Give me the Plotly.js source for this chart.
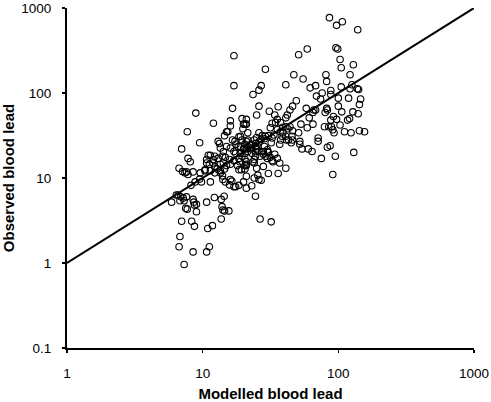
<!DOCTYPE html>
<html>
<head>
<meta charset="utf-8">
<script src="https://cdn.plot.ly/plotly-3.0.1.min.js"></script>
<style>html,body{margin:0;padding:0;background:#fff;}#chart{width:491px;height:402px;}</style>
</head>
<body>
<div id="chart"></div>
<script>
// Modelled blood lead (x) and observed blood lead (y)
var modelled = [
  86,107,97,139,96,99,103,105,129,122,81,82,59,51,47,55,41,29,27,26,23.5,17,17,16.6,8.9,
  62,68,76,69,74,88,88,105,100,119,122,126,138,141,146,143,100,106,128,140,117,121,111,124,143,156,130,95,91,75,
  83,87,71,71,79,85,89,91,93,92,97,88,103,82,83,80,66,68,65,58,61,65,53,59,51,
  49,46,44,42,41,44,45.5,46,52,54,60,64,52,39,41,37,36,36,34,34.5,35.5,37.5,38.5,37,41,41.5,
  31,26,25,21,21,20,20.5,19,21.5,26,29,30.5,33.5,32.5,32,28.5,24,21,20.5,21.5,23,24.5,25,26,28,30,29,26.5,31.5,32.5,33,30.5,25.5,26,27,24,21,23,21,20,24.5,18.5,17.5,26.5,32,
  16.6,17.3,17.6,18.3,16,15,17,17.5,19,19.5,18.5,20,21,22.5,23,20.5,21,20.5,21,23.5,24,24.5,15.8,17,16,18,18.5,19.3,15,14.5,13.5,14.2,14.7,14,13,12.3,12,11.4,11,10.7,11.2,10.7,11.9,12.3,12.8,13.5,12.3,13.5,11.4,10.4,11.4,14,14.1,14.7,16,16.4,15.8,17,13.3,13.5,14.2,15,15.3,14.5,16,16,12,19.5,19.8,18.5,13,9.5,
  7.7,7,7.8,8.1,7.6,7.4,7.1,6.7,7.8,8.5,8.8,8.2,9.6,10.4,6.4,6.6,6.9,7.2,5.9,6.8,7.3,7.6,8.5,8.6,9.0,8.7,7.5,7.7,9.0,10.7,12.2,13.7,14.4,13.9,14.1,14.5,15.6,13.7,11.8,10.9,11.2,10.7,8.7,8.3,7,6.8,6.7,8.5,7.3,9.8,9.5,
  25,27,28.5,30,26,24.5,22.5,23,21.5,24.5,20.5,19,19.5,21.5,25.5,28,30.5,34,35.5,30,24,18.8,21,27.5,37.5,41,39,42.5,46,45,43,37.5,35.5,32.5,31.5,25,20.5,28
];
var observed = [
  770,690,625,555,340,330,248,198,215,164,164,137,330,282,164,146,125,190,122,108,96,274,122,66,58,
  115,122,100,92,85,107,96,118,87,87,112,125,112,110,85,73,70,60,60,57,48,50,35,34,36,35,20,18,11,17,
  23,24,29.5,27,40,40,40,37,34,53,49,48,42,66,63,59,63,63,59,66,51,43,43,39,34,
  81,70,63,55,51,40,31,28,27,22,22,20.5,25,34,13,15,11.3,69,55,45,37,35,31,25,31,28,
  61,70,55,49,43,43,43,31,34,34,31,31.5,32,29.5,26,29,28,27,25,23.5,25,23.5,22,20.5,20.5,20.5,18,18,17.5,16,15.5,11.3,10.8,9.6,9.4,10,10.5,8.1,7.6,9,6.1,8.2,7.9,3.3,3.05,
  28,27,25,23.5,22.5,23.5,20.5,19.5,19.5,18,17,22,22,22.5,19.5,16.5,15.5,14,14.5,15.5,16.5,18,16.5,16,14.5,14,12.5,12.5,14,12.8,14.5,15,17.5,18,17,18,16.5,18.5,18.5,16.5,14.5,15,15,13.5,12.8,12.2,11.5,11.5,12.2,12.2,9,10.6,9.6,9,9.6,9.2,8.3,7.9,25.5,22.5,20.5,35,35,31.5,41,47,44,50,38,30.5,27,26,
  35,22,17,15.5,11.8,11.5,11.9,13,11,11.8,9,8.2,11.5,12.5,6.3,6.3,6,5.8,5.2,5.4,5.4,6,5.6,5.2,4.9,4.8,4.4,4.3,4.0,5.2,5.9,5.6,6.1,4.6,4.2,4.1,4.1,3.3,2.75,2.55,1.55,1.35,2.7,3.1,3.1,2.05,1.55,1.35,0.96,9,9.7,
  30,28.5,23.5,21.5,26.5,25.5,24.5,22,20.5,20.5,19.5,23.5,28,28,23.5,19,20,19,17,17,15,15.5,14,31.5,45,40,39.5,38,36,26,28,28,49,44,39,13,12.8,13.7
];
// 1:1 reference line
var lineX = [1, 1000];
var lineY = [1, 1000];
var xTicks = [1, 10, 100, 1000];
var yTicks = [0.1, 1, 10, 100, 1000];
var xTickText = ['1', '10', '100', '1000'];
var yTickText = ['0.1', '1', '10', '100', '1000'];

var FONT = 'Liberation Sans, Arial, sans-serif';

var traces = [
  {
    x: modelled, y: observed, type: 'scatter', mode: 'markers',
    marker: {symbol: 'circle-open', size: 6.5, color: '#000', line: {width: 1.1, color: '#000'}},
    hoverinfo: 'skip', cliponaxis: false
  },
  {
    x: lineX, y: lineY, type: 'scatter', mode: 'lines',
    line: {color: '#000', width: 2}, hoverinfo: 'skip'
  }
];

var axisCommon = {
  type: 'log', showgrid: false, zeroline: false,
  showline: true, linecolor: '#000', linewidth: 2,
  ticks: 'outside', ticklen: 3, tickwidth: 1.5, tickcolor: '#000',
  tickmode: 'array',
  tickfont: {family: FONT, size: 13.5, color: '#000'}
};

var layout = {
  width: 491, height: 402,
  margin: {l: 67, r: 17, t: 8, b: 54, pad: 0},
  paper_bgcolor: '#fff', plot_bgcolor: '#fff',
  showlegend: false,
  xaxis: Object.assign({}, axisCommon, {
    range: [0, 3], tickvals: xTicks, ticktext: xTickText,
    ticklabelstandoff: 9,
    title: {text: 'Modelled blood lead', font: {family: FONT, size: 15, color: '#000', weight: 'bold'}, standoff: 10}
  }),
  yaxis: Object.assign({}, axisCommon, {
    range: [-1, 3], tickvals: yTicks, ticktext: yTickText,
    ticklabelstandoff: 8,
    title: {text: 'Observed blood lead', font: {family: FONT, size: 15, color: '#000', weight: 'bold'}, standoff: 14}
  })
};

Plotly.newPlot('chart', traces, layout, {staticPlot: true, displayModeBar: false});
</script>
</body>
</html>
